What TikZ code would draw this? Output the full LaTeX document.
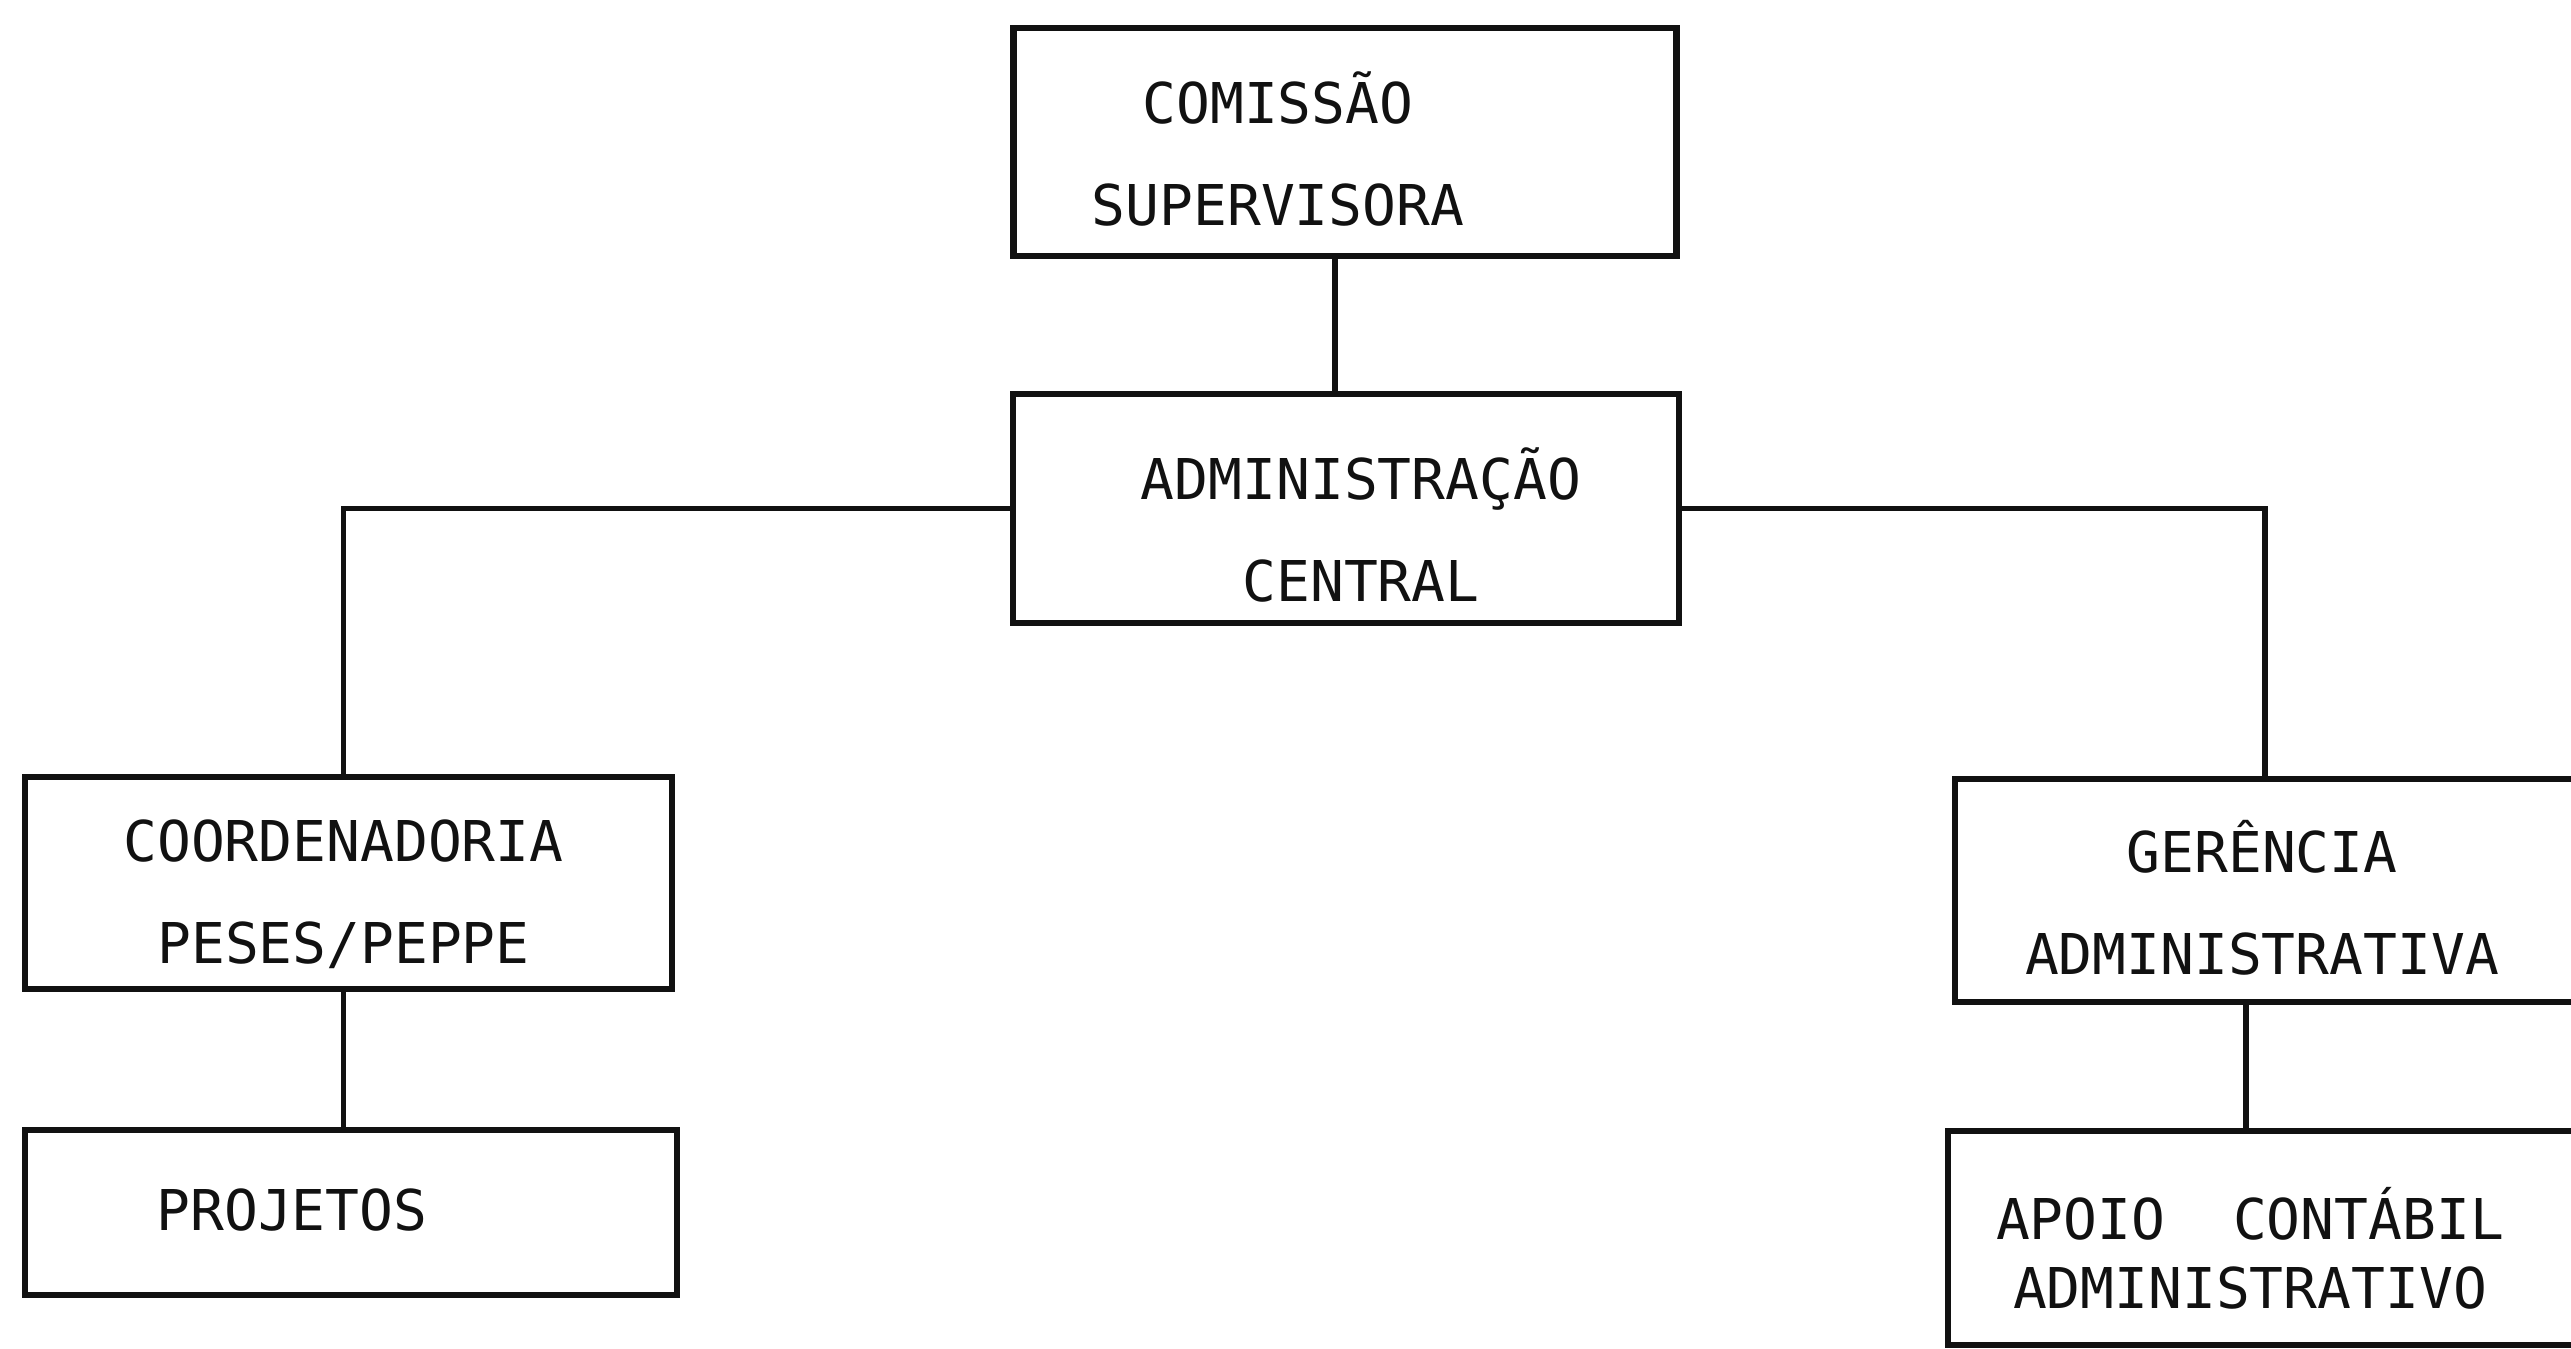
\documentclass[tikz,border=0pt]{standalone}
\usepackage{fontspec}
\setmonofont{DejaVu Sans Mono}
\usetikzlibrary{positioning, calc}
\definecolor{ink}{HTML}{111111}

\tikzset{
  orgbox/.style={draw=ink, line width=1.8pt, inner sep=0pt},
  orgtext/.style={text=ink, font=\ttfamily\fontsize{16}{29}\selectfont, align=center},
  link/.style={draw=ink, line width=1.5pt}
}

\begin{document}
\begin{tikzpicture}

% Page frame
\useasboundingbox (0,0) rectangle (25.71,13.49);
\clip (0,0) rectangle (25.71,13.49);
\fill[white] (0,0) rectangle (25.71,13.49);

% --- Top level ---
\node[orgbox, minimum width=6.63cm, minimum height=2.28cm] (com) at (13.45,12.07) {};
\node[orgtext] (comtxt) at (12.78,12.00) {COMISSÃO\\SUPERVISORA};

\node[orgbox, minimum width=6.66cm, minimum height=2.29cm] (adm) at (13.46,8.405) {};
\node[orgtext] (admtxt) at (13.61,8.24) {ADMINISTRAÇÃO\\CENTRAL};

% --- Left branch ---
\node[orgbox, minimum width=6.47cm, minimum height=2.12cm] (coord) at (3.485,4.66) {};
\node[orgtext] (coordtxt) at (3.435,4.55) {COORDENADORIA\\PESES/PEPPE};

\node[orgbox, minimum width=6.52cm, minimum height=1.65cm] (proj) at (3.51,1.365) {};
\node[orgtext] (projtxt) at (2.92,1.39) {PROJETOS};

% --- Right branch (runs off the page edge) ---
\node[orgbox, minimum width=6.2cm, minimum height=2.23cm] (ger) at (22.65,4.585) {};
\node[orgtext] (gertxt) at (22.62,4.51) {GERÊNCIA\\ADMINISTRATIVA};

\node[orgbox, minimum width=6.27cm, minimum height=2.14cm] (apo) at (22.615,1.11) {};
\node[orgtext, font=\ttfamily\fontsize{16}{19.6}\selectfont] (apotxt) at (22.50,1.01) {APOIO\ \ CONTÁBIL\\ADMINISTRATIVO};

% Connectors
\draw[link] ([xshift=-0.1cm]com.south) -- ([xshift=-0.1cm]com.south |- adm.north);
\draw[link] (adm.west) -| ([xshift=-0.05cm]coord.north);
\draw[link] (adm.east) -| (ger.north);
\draw[link] ([xshift=-0.05cm]coord.south) -- ([xshift=-0.05cm]coord.south |- proj.north);
\draw[link] ([xshift=-0.19cm]ger.south) -- ([xshift=-0.19cm]ger.south |- apo.north);

\end{tikzpicture}
\end{document}
